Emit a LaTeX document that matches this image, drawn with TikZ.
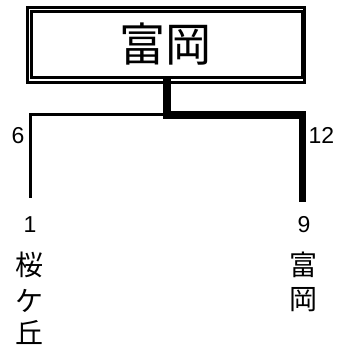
\documentclass[tikz,border=0pt]{standalone}
\usepackage{fontspec}
\setmainfont{Liberation Sans}
\newfontfamily\jp{Noto Sans CJK JP}
\begin{document}
\begin{tikzpicture}[x=1pt,y=-1pt,
  thinline/.style={line width=3pt},
  thickline/.style={line width=7.5pt},
  num/.style={font=\fontsize{23}{23}\selectfont, inner sep=0pt},
  jpch/.style={font=\jp\fontsize{28}{28}\selectfont, inner sep=0pt}]
\useasboundingbox (0,0) rectangle (349,346);
\node[draw, line width=3.5pt, minimum width=277pt, minimum height=75pt, inner sep=0pt] (title) at (166,45) {};
\draw[line width=3pt] ([shift={(6,6)}]title.north west) rectangle ([shift={(-4,-7)}]title.south east);
\node[jpch, font=\jp\fontsize{46}{46}\selectfont] (tname) at (166,44) {富岡};
\coordinate (stem) at (167,82.5);
\coordinate (lend) at (30.5,198);
\coordinate (rend) at (302.5,198);
\draw[thinline] (167,114) -| (lend);
\draw[thickline, line cap=rect] (stem) |- (rend |- 0,115) -- (rend);
\node[num] (s6) at (18,135.5) {6};
\node[num] (s12) at (321.5,135.5) {12};
\node[num] (seedL) at (30,225) {1};
\node[num] (seedR) at (304,225) {9};
\node[jpch] (l1) at (30,265) {桜};
\node[jpch] (l2) at (30,301) {ケ};
\node[jpch] (l3) at (30,332) {丘};
\node[jpch] (r1) at (303,265) {富};
\node[jpch] (r2) at (303,300) {岡};
\end{tikzpicture}
\end{document}
